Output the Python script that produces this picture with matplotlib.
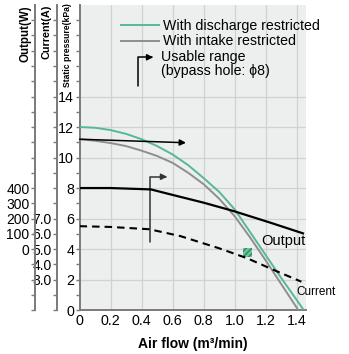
import numpy as np
import matplotlib
matplotlib.use('Agg')
import matplotlib.pyplot as plt
from matplotlib.ticker import FixedLocator, FuncFormatter

plt.rcParams['font.family'] = ['Liberation Sans', 'DejaVu Sans']
NARROW = ['Liberation Sans Narrow', 'Liberation Sans', 'DejaVu Sans']

# static pressure curves (kPa) vs air flow (m3/min)
flow_disc = [0, 0.1, 0.2, 0.3, 0.4, 0.5, 0.6, 0.7, 0.8, 0.9, 1.0, 1.1, 1.2, 1.3, 1.4, 1.445]
p_disc = [12.0, 11.95, 11.8, 11.55, 11.2, 10.75, 10.2, 9.5, 8.65, 7.75, 6.6, 5.1, 3.6, 2.1, 0.66, 0]
flow_intake = [0, 0.1, 0.2, 0.3, 0.4, 0.5, 0.6, 0.7, 0.8, 0.9, 1.0, 1.1, 1.2, 1.3, 1.41]
p_intake = [11.2, 11.1, 10.95, 10.75, 10.45, 10.1, 9.65, 9.0, 8.25, 7.3, 6.15, 4.75, 3.25, 1.7, 0]

# output (W) and current (A)
flow_out = [0, 0.2, 0.46, 0.58, 0.8, 0.99, 1.23, 1.44]
output_w = [400, 400, 391, 360, 304, 250, 173, 103]
flow_cur = [0, 0.2, 0.45, 0.65, 0.9, 1.08, 1.27, 1.43]
current_a = [6.5, 6.45, 6.3, 5.85, 5.05, 4.4, 3.55, 2.86]

# arrows / marker
usable_arrow = [(0, 11.2), (0.686, 10.97)]
inner_arrow = [(0.453, 4.48), (0.565, 8.74)]
legend_arrow = [(0.378, 14.69), (0.475, 16.57)]
mark_flow, mark_p = [1.083], [3.77]

x_ticks = [0, 0.2, 0.4, 0.6, 0.8, 1.0, 1.2, 1.4]
x_labels = ['0', '0.2', '0.4', '0.6', '0.8', '1.0', '1.2', '1.4']

GREEN = '#55b994'
GRAY = '#8e8e8e'
SPINE = '#7a7a7a'

fig = plt.figure(figsize=(3.49, 3.54), dpi=100)
ax = fig.add_axes([0.228, 0.124, 0.649, 0.862])
ax.set_facecolor('#edefee')
ax.set_xlim(0, 1.46)
ax.set_ylim(0, 20)

for s in ['top', 'right']:
    ax.spines[s].set_visible(False)
for s in ['left', 'bottom']:
    ax.spines[s].set_color(SPINE)
    ax.spines[s].set_linewidth(1.4)

ax.set_xticks(x_ticks)
ax.set_xticklabels(x_labels, family=NARROW, fontsize=10.3)
ax.tick_params(axis='x', length=0, pad=3)
ax.set_yticks(np.arange(0, 15, 2))
ax.set_yticks(np.arange(0, 20, 1), minor=True)
ax.set_yticklabels([str(v) for v in range(0, 15, 2)], family=NARROW, fontsize=10.3)
ax.tick_params(axis='y', which='both', length=3, width=1, color=SPINE, pad=1)
for v in x_ticks[1:]:
    ax.axvline(v, color='#d0d1d0', lw=0.9, zorder=0)
for v in range(2, 15, 2):
    ax.axhline(v, color='#d0d1d0', lw=0.9, zorder=0)

ax.plot(flow_disc, p_disc, color=GREEN, lw=1.4, zorder=3)
ax.plot(flow_intake, p_intake, color=GRAY, lw=1.4, zorder=3)
ax.scatter(mark_flow, mark_p, marker='s', s=38, facecolor='#6cc49e',
           edgecolor='#2a8a5e', hatch='//////', linewidths=0, zorder=4)

arr = dict(arrowstyle='-|>', color='black', lw=1.1, mutation_scale=9, shrinkA=0, shrinkB=0)
ax.annotate('', xy=usable_arrow[1], xytext=usable_arrow[0], arrowprops=arr, zorder=5)
ax.annotate('', xy=inner_arrow[1], xytext=inner_arrow[0],
            arrowprops=dict(arr, color='#333333', connectionstyle='angle,angleA=90,angleB=0,rad=0'))
ax.annotate('', xy=legend_arrow[1], xytext=legend_arrow[0],
            arrowprops=dict(arr, connectionstyle='angle,angleA=90,angleB=0,rad=0'))

# current axis
axc = ax.twinx()
axc.set_ylim(1, 21)
for s in ['top', 'right', 'bottom']:
    axc.spines[s].set_visible(False)
axc.spines['left'].set_visible(True)
axc.spines['left'].set_position(('outward', 16))
axc.spines['left'].set_color(SPINE)
axc.spines['left'].set_linewidth(1.4)
axc.yaxis.set_ticks_position('left')
axc.yaxis.set_major_locator(FixedLocator(np.arange(1, 21, 1)))
axc.yaxis.set_major_formatter(FuncFormatter(lambda v, p: f'{v:.1f}' if 3 <= v <= 7 else ''))
axc.tick_params(axis='y', length=3, width=1, color=SPINE, pad=1, labelsize=10)
for t in axc.get_yticklabels():
    t.set_family(NARROW)
axc.plot(flow_cur, current_a, color='black', lw=1.5, dashes=(3.6, 2.4), zorder=3)

# output axis
axo = ax.twinx()
axo.set_ylim(-400, 1600)
for s in ['top', 'right', 'bottom']:
    axo.spines[s].set_visible(False)
axo.spines['left'].set_visible(True)
axo.spines['left'].set_position(('outward', 32))
axo.spines['left'].set_color(SPINE)
axo.spines['left'].set_linewidth(1.4)
axo.yaxis.set_ticks_position('left')
axo.yaxis.set_major_locator(FixedLocator(np.arange(-400, 1600, 100)))
axo.yaxis.set_major_formatter(FuncFormatter(lambda v, p: f'{v:.0f}' if 0 <= v <= 400 else ''))
axo.tick_params(axis='y', length=3, width=1, color=SPINE, pad=1, labelsize=10)
for t in axo.get_yticklabels():
    t.set_family(NARROW)
axo.plot(flow_out, output_w, color='black', lw=1.6, zorder=3)

# legend
ax.legend(handles=[plt.Line2D([], [], color=GREEN, lw=1.4), plt.Line2D([], [], color=GRAY, lw=1.4)],
          labels=['With discharge restricted', 'With intake restricted'],
          loc='upper left', bbox_to_anchor=(0.15, 0.977), frameon=False, fontsize=10.2,
          handlelength=2.7, handletextpad=0.3, labelspacing=0.1, borderpad=0)
ax.text(0.523, 16.57, 'Usable range', fontsize=10.2, va='center', ha='left')
ax.text(0.523, 15.69, '(bypass hole: \u03d58)', fontsize=10.2, va='center', ha='left')
ax.text(1.17, 4.55, 'Output', fontsize=10.5, va='center', ha='left')
ax.text(1.395, 1.2, 'Current', fontsize=8.5, va='center', ha='left', family=NARROW, clip_on=False)

ax.set_xlabel('Air flow (m\u00b3/min)', fontsize=10, fontweight='bold', labelpad=6)
fig.text(0.074, 0.986, 'Output(W)', rotation=90, va='top', ha='center', fontsize=8.3, fontweight='bold')
fig.text(0.132, 0.986, 'Current(A)', rotation=90, va='top', ha='center', fontsize=7.8, fontweight='bold')
fig.text(0.193, 0.99, 'Static pressure(kPa)', rotation=90, va='top', ha='center', fontsize=6.2,
         fontweight='bold', family=NARROW)

fig.savefig('out.png', dpi=100)
